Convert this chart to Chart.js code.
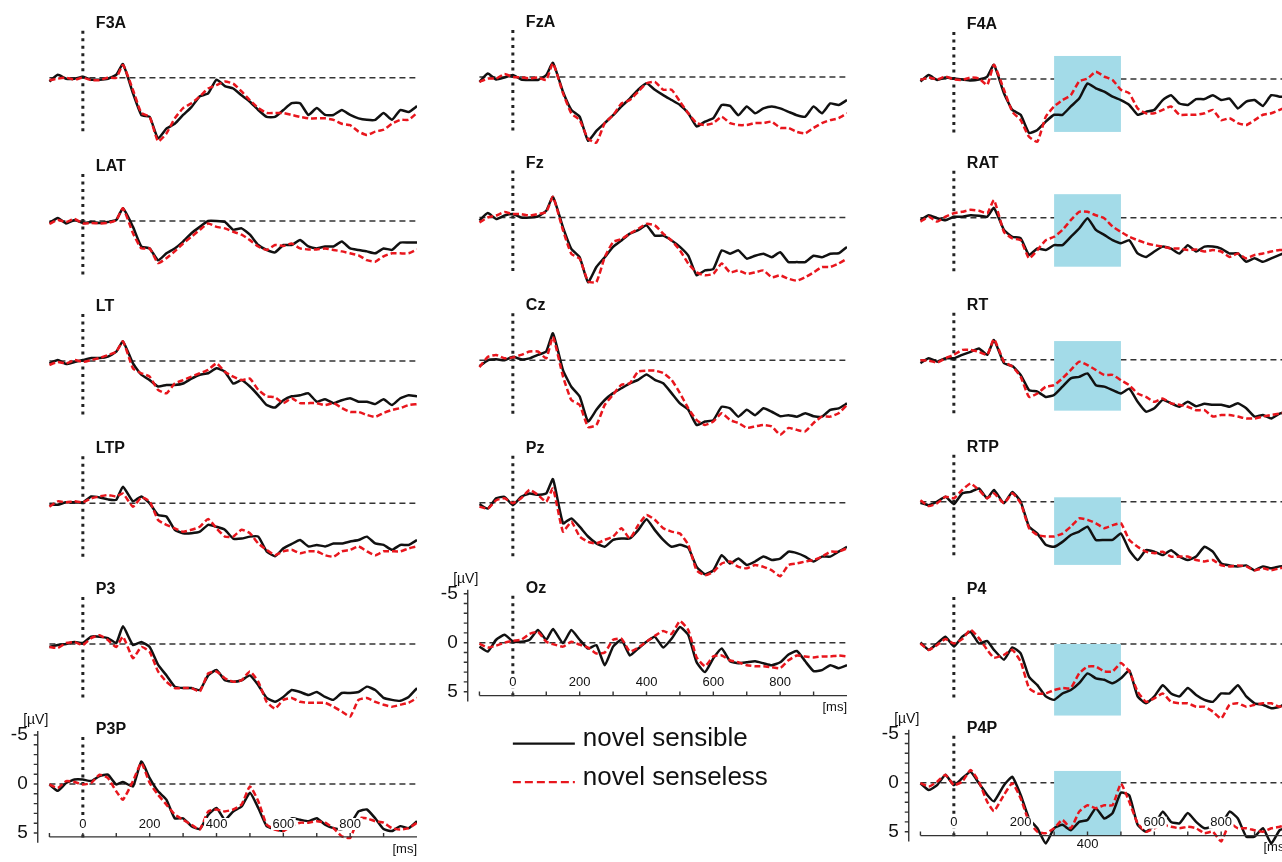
<!DOCTYPE html>
<html>
<head>
<meta charset="utf-8">
<title>ERP waveforms</title>
<script src="https://cdn.jsdelivr.net/npm/chart.js"></script>
<style>
    html, body { margin: 0; padding: 0; background: #fff; overflow: hidden; }
    #figure { position: relative; width: 1282px; height: 862px; }
    #figure canvas { position: absolute; }
</style>
</head>
<body>
<div id="figure"></div>
<script>
// sample times in ms
const times = [-100,-75,-50,-25,0,25,50,75,100,120,150,175,200,225,250,275,300,325,350,375,400,425,450,475,500,525,550,575,600,625,650,675,700,725,750,775,800,825,850,875,900,925,950,975,1000];

// amplitudes in microvolts (negative is drawn up)
const F3A_sensible  = [0.4,-0.3,0.1,0.1,-0.1,0.2,0.2,0.1,-0.3,-1.4,1.6,3.8,4.0,6.2,5.2,4.7,3.8,3.0,1.9,1.6,0.2,0.85,1.1,1.8,2.45,3.3,4.0,4.0,3.3,2.6,2.6,3.8,3.1,3.8,3.8,3.3,3.8,4.15,4.3,4.3,3.6,4.3,3.3,3.5,2.9];
const F3A_senseless = [0.25,0.1,0,0.2,0,0.25,0.25,0,0,-1.3,1.25,3.6,4.0,6.5,5.7,4.15,3.1,2.6,1.9,1.1,0.75,0.4,0.6,1.4,2.3,3.1,3.6,3.6,3.6,3.8,4.0,4.15,4.15,4.15,4.3,4.7,4.85,5.5,5.85,5.5,5.3,4.7,4.3,4.3,3.6];
const LAT_sensible  = [0.2,-0.3,0.25,-0.1,0.2,0.1,0.2,0.1,-0.1,-1.3,0.6,2.6,2.8,4.0,3.3,2.8,2.1,1.25,0.6,0,0,0.1,0.9,0.75,1.4,2.45,2.95,3.2,2.45,2.45,1.95,2.6,2.8,2.6,2.6,2.1,2.8,2.95,3.1,3.3,2.8,2.95,2.2,2.2,2.2];
const LAT_senseless = [0.3,-0.1,0.1,-0.2,0.25,0.2,0.25,0.2,-0.1,-1.3,1.25,2.8,2.8,4.3,3.8,3.1,2.3,1.6,0.9,0.25,0.6,0.75,1.1,1.4,1.95,2.6,2.95,2.45,2.55,2.3,2.8,2.9,2.9,2.8,2.95,3.1,3.3,3.5,4.0,4.15,3.6,3.3,3.3,3.3,2.9];
const LT_sensible   = [0.25,-0.1,0.3,0.1,-0.1,-0.3,-0.3,-0.45,-0.95,-2.0,0.25,1.4,1.95,2.6,2.45,2.45,2.3,1.8,1.4,1.25,0.75,1.1,2.3,1.95,2.6,3.5,4.5,4.75,4.0,3.6,3.5,3.3,4.15,3.9,4.3,4.0,3.8,4.15,4.15,4.4,3.9,4.5,3.8,3.5,3.6];
const LT_senseless  = [0.4,0.1,0.25,-0.1,0.1,-0.1,-0.3,-0.6,-0.95,-2.0,0.75,1.25,1.6,2.95,3.3,2.3,1.95,1.6,1.25,0.9,0.25,1.1,1.6,1.95,1.8,2.95,3.6,3.7,4.3,3.8,4.3,4.3,4.3,4.5,4.3,4.8,5.2,5.2,5.5,5.7,5.3,5.0,4.8,4.5,4.4];
const LTP_sensible  = [0.15,0.15,-0.1,-0.1,-0.1,-0.7,-0.6,-0.4,-0.35,-1.7,-0.2,-0.7,0,1.2,1.35,2.7,3.05,3.05,2.9,2.2,2.4,2.7,3.6,3.6,3.4,3.4,4.9,5.4,4.6,4.15,3.75,4.4,4.25,4.4,4.1,4.1,3.9,3.75,3.4,4.1,4.25,4.75,4.25,4.25,3.75];
const LTP_senseless = [0.35,-0.2,-0.1,-0.2,-0.1,-0.5,-0.7,-0.85,-0.7,-1.0,0.35,-0.6,-0.2,1.7,2.2,2.55,2.9,2.7,2.4,1.6,2.55,3.4,3.4,2.7,3.05,4.1,4.75,5.3,4.9,4.75,5.1,4.9,4.9,5.3,5.45,4.9,4.75,4.4,4.9,5.3,4.9,4.9,4.9,4.6,4.4];
const P3_sensible   = [0.3,0.1,0,-0.2,-0.1,-0.75,-0.75,-0.6,-0.1,-1.8,0.1,-0.2,0.3,2.1,3.2,4.35,4.5,4.5,4.7,3.2,2.65,3.7,3.85,3.7,3.2,4.2,5.5,5.9,5.4,4.7,4.9,5.2,4.9,5.4,5.7,5.0,5.0,4.9,4.35,4.7,5.5,5.7,5.8,5.4,4.5];
const P3_senseless  = [0.3,0.4,-0.1,-0.2,0.1,-0.6,-0.9,-0.4,0.3,-0.75,1.45,0.3,0.8,2.8,3.85,4.5,4.5,4.5,4.85,3.0,2.8,3.5,3.85,3.7,2.8,3.85,5.9,6.6,5.7,5.5,5.9,6.0,6.0,6.0,6.4,6.9,7.4,5.7,5.5,5.9,6.2,6.4,6.2,6.0,5.5];
const P3P_sensible  = [0.05,0.7,-0.1,-0.45,-0.45,-0.3,-0.8,-0.95,0.05,-0.2,0.25,-2.3,-0.6,0.75,1.6,3.5,3.5,4.3,4.6,3.15,2.45,3.65,2.8,2.3,0.9,2.45,4.3,4.6,4.8,3.5,3.65,3.8,3.5,4.15,4.5,4.6,4.15,2.8,2.6,3.5,4.6,4.8,4.3,4.5,3.8];
const P3P_senseless = [0.05,0.4,-0.3,-0.2,0.05,-0.1,-0.95,-0.6,0.75,1.6,-0.3,-2.15,-0.1,1.1,2.1,3.1,3.65,4.15,4.65,2.8,2.6,2.8,2.6,2.1,0.25,1.75,4.15,4.65,4.8,4.3,3.95,3.95,3.8,3.95,4.5,5.35,5.5,3.5,3.5,3.8,3.95,4.5,4.65,4.5,3.95];

const FzA_sensible  = [0.5,-0.35,0.25,0.05,-0.2,0.25,0.3,0.3,-0.2,-1.45,1.5,3.35,4.05,6.5,5.5,4.7,3.9,3.0,2.2,1.3,0.65,1.3,1.85,2.35,2.85,3.7,5.05,4.55,4.2,2.85,2.95,3.9,3.0,3.7,3.2,3.0,3.2,3.55,3.9,4.05,3.0,3.7,2.7,2.85,2.35];
const FzA_senseless = [0.5,0.15,0.15,-0.3,0,0.05,0.15,0.05,0.3,-1.4,1.65,3.7,4.4,6.3,6.7,4.7,3.9,2.7,2.35,1.5,0.65,0.5,1.3,1.3,2.5,3.7,4.7,4.9,4.7,4.05,4.7,4.9,4.9,4.7,4.7,4.55,5.2,5.2,5.6,5.75,5.2,4.7,4.4,4.2,3.7];
const Fz_sensible   = [0.3,-0.45,0.15,-0.2,-0.35,0,0,-0.1,-0.7,-2.1,1.0,3.2,4.05,6.6,5.05,4.05,3.0,2.35,1.65,1.3,0.8,1.85,1.85,2.35,3.0,3.9,5.9,5.4,5.25,3.35,3.7,3.35,4.2,3.9,3.7,4.05,3.55,4.55,4.55,4.55,3.9,4.05,3.7,3.65,3.0];
const Fz_senseless  = [0.5,0,-0.2,-0.55,-0.35,-0.35,-0.2,-0.35,-0.55,-2.1,1.3,3.7,4.2,6.5,6.6,4.05,2.5,2.2,1.65,1.15,0.65,0.8,1.65,2.35,3.35,4.7,5.6,5.9,5.75,4.7,5.6,5.4,5.75,5.6,5.4,6.1,5.9,6.25,6.45,6.1,5.6,5.05,5.05,4.7,4.2];
const Cz_sensible   = [0.6,0,-0.1,0,-0.35,-0.1,-0.2,-0.55,-0.9,-2.75,1.0,2.7,3.7,6.25,5.05,4.05,3.35,2.85,2.35,2.0,1.45,2.0,2.35,3.35,4.4,5.05,6.6,6.25,6.1,4.75,4.9,5.75,5.05,5.6,4.9,5.25,5.7,5.6,5.75,5.4,5.7,5.75,5.05,4.9,4.4];
const Cz_senseless  = [0.7,-0.35,-0.55,-0.2,-0.3,-0.55,-0.9,-0.9,-0.2,-2.4,1.65,4.05,4.55,6.8,6.6,4.55,3.5,2.5,2.35,1.15,1.05,1.05,1.3,2.0,3.35,4.9,6.1,6.6,6.25,5.4,6.1,6.4,6.9,6.75,6.6,6.75,7.6,6.9,7.1,7.25,6.4,5.75,5.75,5.4,4.55];
const Pz_sensible   = [0.15,0.6,-0.45,-0.6,0.25,-0.6,-0.95,-0.8,-0.95,-2.4,2.1,1.6,2.45,3.45,4.15,4.5,3.8,3.65,3.65,2.8,1.7,2.8,3.8,4.5,4.3,4.6,6.55,7.3,6.9,5.35,6.2,5.7,6.35,6.0,5.5,5.85,5.7,5.0,5.15,5.5,6.0,5.5,5.5,5.0,4.5];
const Pz_senseless  = [0.4,0.6,-0.25,-0.45,0.05,-0.45,-1.3,-0.8,-0.1,-1.45,2.95,1.95,3.45,4.0,4.15,3.8,3.45,2.6,3.65,2.3,1.25,1.75,2.6,2.95,3.15,4.3,6.9,7.4,7.05,6.2,6.0,6.55,6.7,6.35,6.55,6.9,7.5,6.35,6.2,6.0,5.85,5.5,5.0,5.0,4.65];
const Oz_sensible   = [0.4,0.9,-0.3,-0.8,-0.15,-0.1,-0.3,-1.3,-0.3,-1.4,0.05,-1.3,-0.3,0.6,0.25,2.3,0.4,-0.3,1.3,0.6,-0.1,-0.6,0.5,-0.4,-1.6,-0.8,2.0,3.0,1.6,0.6,1.9,2.1,2.0,1.9,2.1,2.3,2.0,1.2,0.85,1.9,2.9,2.8,2.3,2.6,2.3];
const Oz_senseless  = [0.1,0.5,0.3,0,-0.2,-0.3,-0.9,-1.1,-0.1,0.15,0.4,-0.1,0.2,0.5,1.1,1.0,-0.3,-0.4,0.9,0.5,-0.1,-0.7,-1.2,-0.9,-2.2,-1.3,1.5,2.4,1.4,1.3,1.8,2.0,2.3,2.4,2.4,2.5,2.6,1.8,1.3,1.4,1.5,1.4,1.4,1.3,1.4];

const F4A_sensible  = [0.25,-0.4,0.1,-0.15,-0.05,0.05,0.15,0.05,-0.25,-1.45,1.45,3.15,3.65,5.5,5.2,4.35,3.65,3.65,2.8,2.0,0.45,0.95,1.3,1.8,2.15,2.65,3.65,3.35,3.15,2.15,1.65,2.5,2.65,2.05,2.05,1.65,2.15,2.0,3.0,2.3,2.15,2.75,1.65,1.8,1.8];
const F4A_senseless = [0.1,-0.15,0.05,-0.25,0.05,0.1,-0.15,-0.05,0.6,-1.45,1.1,3.35,4.2,5.9,6.4,3.85,2.8,2.15,1.65,0.25,-0.05,-0.75,-0.25,0.1,1.1,1.45,3.0,3.5,3.5,3.15,2.8,3.65,3.65,3.65,3.5,3.15,4.2,4.0,4.5,4.7,4.2,3.65,3.5,3.15,2.8];
const RAT_sensible  = [0.25,-0.25,0.05,0.25,-0.1,-0.1,-0.25,-0.2,-0.1,-1.0,1.25,1.95,2.1,3.8,3.15,3.3,2.8,2.8,1.95,1.1,0.05,1.25,1.75,2.3,2.6,2.3,3.65,4.0,3.45,2.95,3.15,3.65,2.8,3.45,2.95,2.95,3.15,3.65,3.65,4.5,4.15,4.5,4.15,3.8,3.45];
const RAT_senseless = [0.4,-0.1,0.4,-0.1,-0.45,-0.6,-0.8,-0.7,-0.45,-1.8,1.45,2.1,2.3,4.15,3.3,2.3,1.95,1.25,0.25,-0.6,-0.6,-0.25,0.05,0.9,1.45,1.95,2.3,2.6,2.8,2.95,3.15,3.15,3.3,3.25,3.45,3.3,3.45,4.0,3.65,4.15,3.8,3.65,3.45,3.3,3.3];
const RT_sensible   = [0.35,-0.15,0.2,-0.15,-0.15,-0.5,-0.8,-1.15,-0.5,-2.0,0.35,0.65,1.55,3.1,3.25,3.8,3.6,2.75,1.9,1.75,1.4,2.6,2.75,3.1,3.45,2.95,4.3,5.3,4.95,4.1,4.45,4.8,4.3,4.75,4.5,4.6,4.6,4.8,4.45,4.95,5.8,5.65,6.0,5.5,5.3];
const RT_senseless  = [0.05,0.1,0.3,-0.15,-0.5,-1.0,-1.0,-0.8,-0.5,-2.1,0.2,0.7,1.75,3.8,3.45,2.75,2.6,1.9,1.05,0.2,0.55,1.05,1.55,1.55,2.1,2.6,3.45,3.8,4.3,3.95,4.45,4.6,4.8,5.15,5.15,5.8,5.65,5.65,5.8,6.0,6.0,5.8,5.65,5.5,5.3];
const RTP_sensible  = [0.1,0.35,0,-0.5,0.25,-0.85,-1.0,-1.35,-0.35,-1.2,0.15,-1.0,0,2.55,3.25,4.4,4.6,4.1,3.4,3.05,2.55,3.9,3.9,3.9,3.25,4.95,5.95,4.95,5.1,5.45,4.95,5.6,5.95,5.6,4.6,5.1,6.3,6.5,6.6,6.5,7.0,6.6,6.8,6.6,6.6];
const RTP_senseless = [-0.15,0.45,0.15,-0.5,-0.35,-1.2,-1.85,-1.2,-0.35,-0.85,0.15,-0.85,0.15,2.7,3.4,3.55,3.55,3.25,2.55,1.7,1.85,2.2,2.7,2.4,2.2,3.9,4.6,5.1,5.25,5.1,5.6,5.6,5.6,5.95,6.1,5.95,6.5,6.6,6.5,6.6,7.0,6.8,7.0,6.8,6.6];
const P4_sensible   = [-0.15,0.6,-0.05,-0.75,0.25,-0.75,-1.25,-0.05,-0.3,0.6,1.6,0.35,0.95,3.35,4.2,5.35,5.7,5.05,4.7,4.0,3.0,3.5,3.65,4.0,3.5,2.7,5.35,6.05,5.35,4.2,5.05,5.35,4.5,5.2,5.7,5.9,5.05,5.05,4.2,5.35,6.05,6.2,6.55,6.4,5.9];
const P4_senseless  = [-0.05,0.6,0.1,-0.5,-0.05,-0.5,-1.45,-0.6,0.6,1.4,1.1,0.6,1.8,4.5,5.05,5.05,4.7,4.5,4.5,3.0,2.3,2.3,2.8,2.8,1.95,2.8,4.85,5.9,5.55,5.05,5.9,6.05,6.05,6.4,6.4,6.9,7.6,6.2,6.05,6.4,6.2,6.05,6.05,6.4,6.05];
const P4P_sensible  = [0.05,0.75,0.25,-0.8,0.25,-0.45,-1.1,0.05,1.25,1.9,0.25,-0.6,1.25,3.65,4.65,6.2,4.65,4.3,4.85,4.0,3.8,2.6,3.65,3.1,1.0,1.3,4.3,5.0,4.3,2.95,4.0,4.15,3.1,4.0,4.65,4.5,4.3,2.95,3.65,5.5,5.5,4.65,6.2,4.85,4.65];
const P4P_senseless = [0.05,0.4,-0.1,-0.8,0.25,-0.1,-1.3,-0.1,1.95,2.9,1.25,0.05,1.6,4.0,5.0,5.15,4.65,3.8,4.65,2.95,2.3,2.6,2.3,2.3,0.1,1.95,4.15,5.0,4.65,4.3,4.5,4.65,4.5,4.65,5.15,5.0,6.0,4.15,4.65,4.65,4.85,5.0,4.65,4.5,4.3];

// shaded analysis window on the right hemisphere (ms) and its extent per panel (uV)
const boxWindow = [300, 500];
const boxTop    = [-2.35, -2.4, -1.9, -0.45, 0, -1.2];
const boxBottom = [5.4, 5.0, 5.2, 6.45, 7.3, 5.4];

// axis ticks
const xTicks = [-100, 0, 100, 200, 300, 400, 500, 600, 700, 800, 900];
const xTickLabels = [0, 200, 400, 600, 800];
const yTicks = [-5, -4, -3, -2, -1, 0, 1, 2, 3, 4, 5];
const yTickLabels = [-5, 0, 5];

const seriesNames = ['novel sensible', 'novel senseless'];

const PX_PER_UV = 9.8;
const CANVAS_W = 411;
const X_MIN = -230, X_MAX = 1000;
const FONT = '"Liberation Sans", Arial, Helvetica, sans-serif';
const BLACK = '#111111', RED = '#e8161d', BOX = '#a3dbe8';

const colLeft = [6, 436, 877];

const panels = [
    { name: 'F3A', col: 0, base: 77.7,  a: F3A_sensible, b: F3A_senseless },
    { name: 'LAT', col: 0, base: 221,   a: LAT_sensible, b: LAT_senseless },
    { name: 'LT',  col: 0, base: 361,   a: LT_sensible,  b: LT_senseless },
    { name: 'LTP', col: 0, base: 503.3, a: LTP_sensible, b: LTP_senseless },
    { name: 'P3',  col: 0, base: 644,   a: P3_sensible,  b: P3_senseless },
    { name: 'P3P', col: 0, base: 784,   a: P3P_sensible, b: P3P_senseless, axes: true },
    { name: 'FzA', col: 1, base: 77,    a: FzA_sensible, b: FzA_senseless },
    { name: 'Fz',  col: 1, base: 217.5, a: Fz_sensible,  b: Fz_senseless },
    { name: 'Cz',  col: 1, base: 360.3, a: Cz_sensible,  b: Cz_senseless },
    { name: 'Pz',  col: 1, base: 502.7, a: Pz_sensible,  b: Pz_senseless },
    { name: 'Oz',  col: 1, base: 642.7, a: Oz_sensible,  b: Oz_senseless, axes: true, legend: true },
    { name: 'F4A', col: 2, base: 79,    a: F4A_sensible, b: F4A_senseless, box: 0 },
    { name: 'RAT', col: 2, base: 217.7, a: RAT_sensible, b: RAT_senseless, box: 1 },
    { name: 'RT',  col: 2, base: 359.7, a: RT_sensible,  b: RT_senseless,  box: 2 },
    { name: 'RTP', col: 2, base: 501.7, a: RTP_sensible, b: RTP_senseless, box: 3 },
    { name: 'P4',  col: 2, base: 644,   a: P4_sensible,  b: P4_senseless,  box: 4 },
    { name: 'P4P', col: 2, base: 782.7, a: P4P_sensible, b: P4P_senseless, box: 5, axes: true, lowered: [400] }
];

// per-panel decorations: baseline, onset marker, shaded window, name, axes, legend
function decor(p) {
    return {
        id: 'decor' + p.name,
        beforeDatasetsDraw(chart) {
            const ctx = chart.ctx;
            const px = v => chart.scales.x.getPixelForValue(v);
            const py = v => chart.scales.y.getPixelForValue(v);
            ctx.save();
            ctx.strokeStyle = '#333';
            ctx.lineWidth = 1.5;
            ctx.setLineDash([6, 4]);
            ctx.beginPath();
            ctx.moveTo(px(-100), py(0));
            ctx.lineTo(px(995), py(0));
            ctx.stroke();

            ctx.strokeStyle = '#222';
            ctx.lineWidth = 3;
            ctx.setLineDash([3, 4.5]);
            ctx.beginPath();
            ctx.moveTo(px(0), py(-4.8));
            ctx.lineTo(px(0), py(5.8));
            ctx.stroke();

            if (p.box !== undefined) {
                ctx.fillStyle = BOX;
                const x0 = px(boxWindow[0]), x1 = px(boxWindow[1]);
                const y0 = py(boxTop[p.box]), y1 = py(boxBottom[p.box]);
                ctx.fillRect(x0, y0, x1 - x0, y1 - y0);
            }
            ctx.restore();
        },
        afterDatasetsDraw(chart) {
            const ctx = chart.ctx;
            const px = v => chart.scales.x.getPixelForValue(v);
            const py = v => chart.scales.y.getPixelForValue(v);
            const y0 = py(0);
            ctx.save();
            ctx.fillStyle = BLACK;
            ctx.font = 'bold 16px ' + FONT;
            ctx.textAlign = 'left';
            ctx.textBaseline = 'alphabetic';
            ctx.fillText(p.name, px(0) + 13, y0 - 50);

            if (p.axes) {
                const ax = px(-135);
                const axisY = py(5.4);
                ctx.strokeStyle = '#333';
                ctx.lineWidth = 1.4;
                ctx.setLineDash([]);
                ctx.beginPath();
                ctx.moveTo(ax, py(-5.4));
                ctx.lineTo(ax, py(6.0));
                yTicks.forEach(v => { ctx.moveTo(ax - 4, py(v)); ctx.lineTo(ax, py(v)); });
                ctx.moveTo(px(-100), axisY);
                ctx.lineTo(px(1000), axisY);
                xTicks.forEach(t => { ctx.moveTo(px(t), axisY); ctx.lineTo(px(t), axisY - 4); });
                ctx.stroke();

                ctx.font = '19px ' + FONT;
                ctx.textAlign = 'right';
                ctx.textBaseline = 'middle';
                yTickLabels.forEach(v => ctx.fillText(String(v), ax - 10, py(v)));

                ctx.font = '14px ' + FONT;
                ctx.textAlign = 'center';
                ctx.fillText('[\u00b5V]', ax - 2, y0 - 64);

                ctx.font = '13px ' + FONT;
                xTickLabels.forEach(t => {
                    const low = (p.lowered || []).includes(t);
                    const ty = low ? y0 + 62 : y0 + 40;
                    const w = ctx.measureText(String(t)).width;
                    if (!low) {
                        ctx.fillStyle = '#fff';
                        ctx.fillRect(px(t) - w / 2 - 1.5, ty - 6, w + 3, 12);
                    }
                    ctx.fillStyle = BLACK;
                    ctx.fillText(String(t), px(t), ty);
                });
                ctx.textAlign = 'right';
                ctx.fillText('[ms]', px(1000), y0 + 65);
            }

            if (p.legend) {
                const sets = chart.data.datasets;
                const rows = [{ line: 101, text: 96.5 }, { line: 139.5, text: 135.3 }];
                sets.forEach((ds, i) => {
                    const lx = px(0);
                    ctx.strokeStyle = ds.borderColor;
                    ctx.lineWidth = 2.2;
                    ctx.setLineDash(ds.borderDash.length ? [8, 4] : []);
                    ctx.beginPath();
                    ctx.moveTo(lx, y0 + rows[i].line);
                    ctx.lineTo(lx + 62, y0 + rows[i].line);
                    ctx.stroke();
                    ctx.fillStyle = BLACK;
                    ctx.font = '26px ' + FONT;
                    ctx.textAlign = 'left';
                    ctx.textBaseline = 'middle';
                    ctx.fillText(ds.label, lx + 70, y0 + rows[i].text);
                });
            }
            ctx.restore();
        }
    };
}

const figure = document.getElementById('figure');

panels.forEach(p => {
    const extra = p.legend ? 100 : 0;
    const height = 162 + extra;
    const top = Math.round(p.base - 8.5 * PX_PER_UV);
    const yMin = -(p.base - top) / PX_PER_UV;
    const yMax = yMin + height / PX_PER_UV;

    const canvas = document.createElement('canvas');
    canvas.width = CANVAS_W;
    canvas.height = height;
    canvas.style.left = colLeft[p.col] + 'px';
    canvas.style.top = top + 'px';
    canvas.style.width = CANVAS_W + 'px';
    canvas.style.height = height + 'px';
    figure.appendChild(canvas);

    new Chart(canvas, {
        type: 'line',
        data: {
            datasets: [
                {
                    label: seriesNames[0],
                    data: times.map((t, i) => ({ x: t, y: p.a[i] })),
                    borderColor: BLACK,
                    borderWidth: 2.5,
                    borderDash: [],
                    pointRadius: 0,
                    tension: 0.15,
                    fill: false,
                    order: 1
                },
                {
                    label: seriesNames[1],
                    data: times.map((t, i) => ({ x: t, y: p.b[i] })),
                    borderColor: RED,
                    borderWidth: 2.5,
                    borderDash: [6, 3],
                    pointRadius: 0,
                    tension: 0.15,
                    fill: false,
                    order: 0
                }
            ]
        },
        options: {
            responsive: false,
            animation: false,
            events: [],
            layout: { padding: 0 },
            plugins: {
                legend: { display: false },
                tooltip: { enabled: false }
            },
            scales: {
                x: { type: 'linear', min: X_MIN, max: X_MAX, display: false },
                y: { type: 'linear', min: yMin, max: yMax, reverse: true, display: false }
            }
        },
        plugins: [decor(p)]
    });
});
</script>
</body>
</html>
